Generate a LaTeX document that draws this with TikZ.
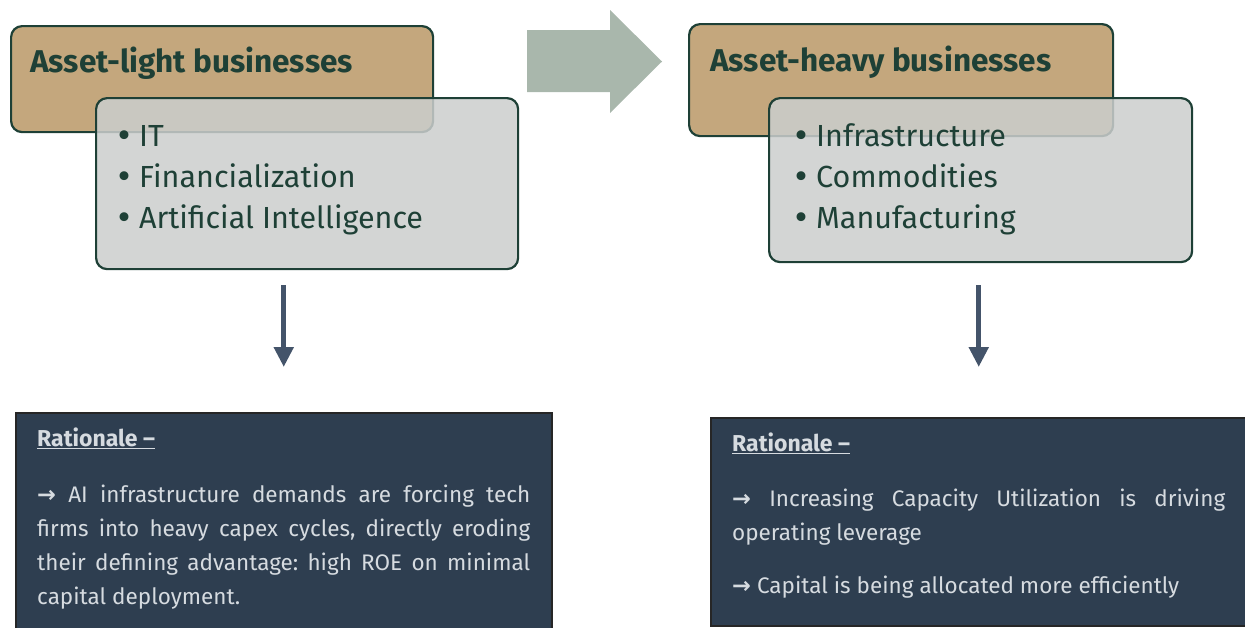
\documentclass[tikz,border=0pt]{standalone}
\usepackage{fontspec}
\setmainfont{Fira Sans}
\newfontfamily\symbolfont{DejaVu Sans}
\usetikzlibrary{arrows.meta, positioning}
\definecolor{sand}{RGB}{196,167,125}
\definecolor{mist}{RGB}{203,206,205}
\definecolor{pine}{RGB}{30,64,54}
\definecolor{slate}{RGB}{46,62,80}
\definecolor{steel}{RGB}{68,84,106}
\definecolor{sage}{RGB}{169,183,172}
\definecolor{paper}{RGB}{214,219,224}
\tikzset{
  headbox/.style={draw=pine, fill=sand, line width=2.2pt, rounded corners=11pt,
                  anchor=north west, inner sep=0pt},
  listbox/.style={draw=pine, fill=mist, fill opacity=0.85, line width=2.2pt,
                  rounded corners=11pt, anchor=north west, inner sep=0pt},
  heading/.style={font=\fontsize{31.5}{34}\selectfont\bfseries, text=pine,
                  anchor=base west, inner sep=0pt},
  entry/.style={font=\fontsize{30.5}{34}\selectfont, text=pine,
                anchor=base west, inner sep=0pt},
  notebox/.style={draw=black!85, fill=slate, line width=1.5pt,
                  anchor=north west, inner sep=0pt},
  notetext/.style={text=paper, text width=493pt, align=justify,
                   anchor=north west, inner sep=0pt,
                   font=\fontsize{22.5}{34}\selectfont\frenchspacing},
  drop/.style={-{Triangle[width=19pt,length=20pt]}, line width=5pt, draw=steel}
}
\newcommand{\toarrow}{{\symbolfont\bfseries →}}
\newcommand{\itemdot}{\makebox[24pt][l]{\symbolfont •}}
\newcommand{\notehead}{{\fontsize{23}{34}\selectfont\bfseries\underline{Rationale –}}}

\begin{document}
\begin{tikzpicture}[x=1pt, y=-1pt]
  \useasboundingbox (0,0) rectangle (1245,627);
  \clip (0,0) rectangle (1245,627);

  % asset-light side
  \node[headbox, minimum width=422pt, minimum height=106pt] (lhead) at (10,25) {};
  \node[heading] (ltitle) at (30,72) {Asset-light businesses};
  \node[listbox, minimum width=422pt, minimum height=171pt] (llist) at (95,97) {};
  \foreach \t [count=\i] in {IT, Financialization, Artificial Intelligence}
    \node[entry] (litem\i) at (115,105+41*\i) {\itemdot\t};

  % asset-heavy side
  \node[headbox, minimum width=424pt, minimum height=112pt] (rhead) at (688,23) {};
  \node[heading] (rtitle) at (710,71) {Asset-heavy businesses};
  \node[listbox, minimum width=423pt, minimum height=164pt] (rlist) at (768,97) {};
  \foreach \t [count=\i] in {Infrastructure, Commodities, Manufacturing}
    \node[entry] (ritem\i) at (792,105+41*\i) {\itemdot\t};

  % shift between the two
  \fill[sage] (527,30) -- (610,30) -- (610,10) -- (662,61.5) -- (610,113)
    -- (610,92) -- (527,92) -- cycle;

  % rationale panels
  \node[notebox, minimum width=536pt, minimum height=230pt] (lnote) at (15,412) {};
  \node[notebox, minimum width=536pt, minimum height=208pt] (rnote) at (710,417) {};
  \node[notetext] (ltext) at (37,428) {\notehead\\[22pt]
    \toarrow{} AI infrastructure demands are forcing tech\linebreak
    firms into heavy capex cycles, directly eroding\linebreak
    their defining advantage: high ROE on minimal\linebreak
    capital deployment.};
  \node[notetext] (rtext) at (732,433) {\notehead\\[21pt]
    \toarrow{} Increasing Capacity Utilization is driving\linebreak
    operating leverage\\[19pt]
    \toarrow{} Capital is being allocated more efficiently};

  \foreach \a/\b/\s/\e in {llist/lnote/15/45, rlist/rnote/22/50}
    \draw[drop, shorten <=\s pt, shorten >=\e pt] (\a.south -| \b.north) -- (\b.north);
\end{tikzpicture}
\end{document}
